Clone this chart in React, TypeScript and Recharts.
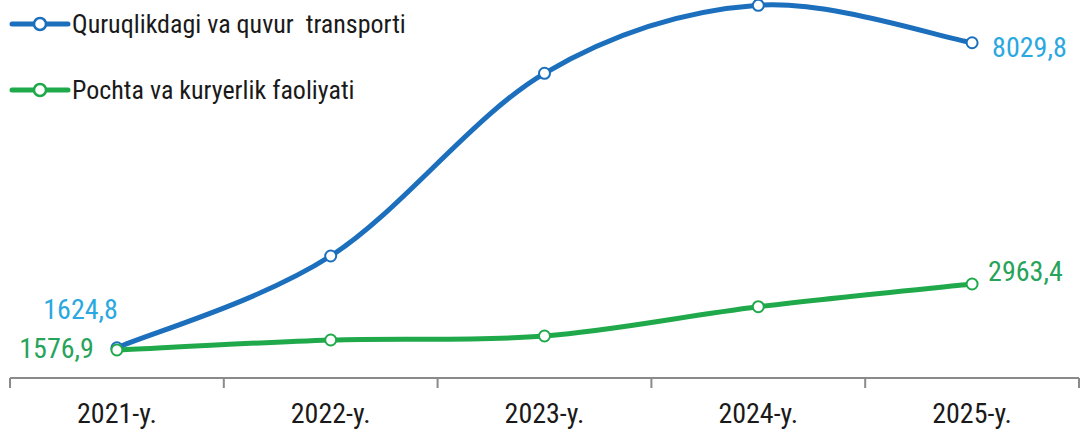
import { LineChart, Line, XAxis, YAxis, LabelList } from "recharts"

const years = ["2021-y.", "2022-y.", "2023-y.", "2024-y.", "2025-y."]
const transport = [1624.8, 3551, 7388, 8815, 8029.8]
const postal = [1576.9, 1787, 1871, 2486, 2963.4]

const seriesNames = ["Quruqlikdagi va quvur  transporti", "Pochta va kuryerlik faoliyati"]

const BLUE = "#1c6fbc"
const GREEN = "#1fa94b"
const BLUE_LABEL = "#2aa8df"
const GREEN_LABEL = "#27a35a"
const FONT = "'Liberation Sans Narrow', 'Roboto Condensed', Roboto, sans-serif"

const data = years.map((year, i) => ({
  x: i + 0.5,
  year,
  transport: transport[i],
  postal: postal[i],
}))

// excel-like smoothing (uniform catmull-rom as bezier)
function smoothCurve(context: any) {
  let pts: number[][] = []
  return {
    areaStart() {},
    areaEnd() {},
    lineStart() {
      pts = []
    },
    point(x: number, y: number) {
      pts.push([+x, +y])
    },
    lineEnd() {
      if (!pts.length) return
      context.moveTo(pts[0][0], pts[0][1])
      for (let i = 0; i < pts.length - 1; i++) {
        const p0 = pts[Math.max(i - 1, 0)]
        const p1 = pts[i]
        const p2 = pts[i + 1]
        const p3 = pts[Math.min(i + 2, pts.length - 1)]
        context.bezierCurveTo(
          p1[0] + (p2[0] - p0[0]) / 6,
          p1[1] + (p2[1] - p0[1]) / 6,
          p2[0] - (p3[0] - p1[0]) / 6,
          p2[1] - (p3[1] - p1[1]) / 6,
          p2[0],
          p2[1],
        )
      }
    },
  }
}

const fmt = (v: number) => v.toFixed(1).replace(".", ",")

const YearTick = ({ x, y, payload }: any) => {
  const idx = Math.floor(payload.value)
  return (
    <text x={x} y={y + 35} textAnchor="middle" fontSize={28} fill="#1a1a1a" fontFamily={FONT}>
      {years[idx]}
    </text>
  )
}

const makeLabel = (color: string, first: { dx: number; dy: number }, last: { dx: number; dy: number }) =>
  (props: any) => {
    const { x, y, value, index } = props
    if (index !== 0 && index !== years.length - 1) return null
    const off = index === 0 ? first : last
    return (
      <text
        x={x + off.dx}
        y={y + off.dy}
        textAnchor={index === 0 ? "end" : "start"}
        fontSize={28}
        fill={color}
        fontFamily={FONT}
      >
        {fmt(value)}
      </text>
    )
  }

function LegendItem({ color, label, y }: { color: string; label: string; y: number }) {
  return (
    <g>
      <line x1={12} x2={68} y1={y} y2={y} stroke={color} strokeWidth={5} strokeLinecap="round" />
      <circle cx={40} cy={y} r={6} fill="#fff" stroke={color} strokeWidth={2.5} />
      <text x={72} y={y + 9} fontSize={26} fill="#1a1a1a" fontFamily={FONT} style={{ whiteSpace: "pre" }}>
        {label}
      </text>
    </g>
  )
}

export default function App() {
  return (
    <div style={{ position: "absolute", left: 0, top: 0, width: 1081, height: 429, background: "#fff" }}>
      <LineChart width={1081} height={429} data={data} margin={{ top: 0, right: 2, left: 10, bottom: 6 }}>
        <XAxis
          xAxisId={0}
          type="number"
          dataKey="x"
          domain={[0, 5]}
          ticks={[0, 1, 2, 3, 4, 5]}
          tickFormatter={() => ""}
          tickSize={10}
          height={10}
          stroke="#8a8a8a"
          strokeWidth={2}
        />
        <XAxis
          xAxisId={1}
          type="number"
          dataKey="x"
          domain={[0, 5]}
          ticks={[0.5, 1.5, 2.5, 3.5, 4.5]}
          axisLine={false}
          tickLine={false}
          tickSize={0}
          tickMargin={0}
          height={35}
          tick={<YearTick />}
        />
        <YAxis hide domain={[989, 8927]} />
        <Line
          xAxisId={0}
          dataKey="transport"
          type={smoothCurve as any}
          stroke={BLUE}
          strokeWidth={5}
          dot={{ r: 5.5, fill: "#fff", stroke: BLUE, strokeWidth: 2 }}
          activeDot={false}
          isAnimationActive={false}
        >
          <LabelList dataKey="transport" content={makeLabel(BLUE_LABEL, { dx: 1, dy: -29 }, { dx: 20, dy: 14 })} />
        </Line>
        <Line
          xAxisId={0}
          dataKey="postal"
          type={smoothCurve as any}
          stroke={GREEN}
          strokeWidth={5}
          dot={{ r: 5.5, fill: "#fff", stroke: GREEN, strokeWidth: 2 }}
          activeDot={false}
          isAnimationActive={false}
        >
          <LabelList dataKey="postal" content={makeLabel(GREEN_LABEL, { dx: -23, dy: 8 }, { dx: 16, dy: -3 })} />
        </Line>
      </LineChart>
      <svg width={440} height={110} style={{ position: "absolute", left: 0, top: 0 }}>
        <LegendItem color={BLUE} label={seriesNames[0]} y={24} />
        <LegendItem color={GREEN} label={seriesNames[1]} y={90} />
      </svg>
    </div>
  )
}
